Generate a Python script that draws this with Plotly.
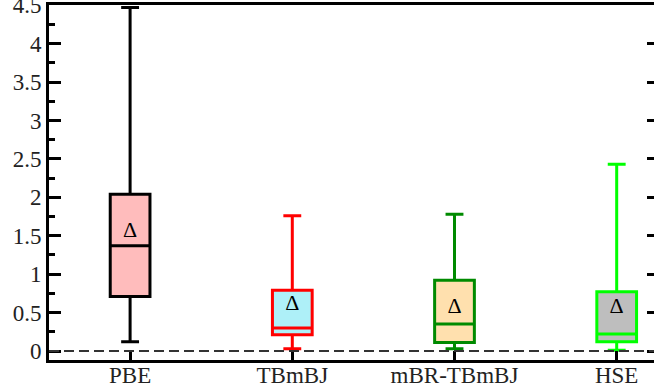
import plotly.graph_objects as go

categories = ["PBE", "TBmBJ", "mBR-TBmBJ", "HSE"]
lower_whisker = [0.12, 0.03, 0.03, 0.01]
q1_vals = [0.71, 0.21, 0.11, 0.12]
median_vals = [1.37, 0.30, 0.35, 0.22]
q3_vals = [2.04, 0.79, 0.92, 0.77]
upper_whisker = [4.47, 1.76, 1.78, 2.43]
mean_vals = [1.56, 0.61, 0.57, 0.57]

line_colors = ["#000000", "#FF0000", "#008A00", "#00FF00"]
fill_colors = ["#FFBCBC", "#AEF0F8", "#FFE0AE", "#BEBEBE"]

ytick_vals = [0, 0.5, 1, 1.5, 2, 2.5, 3, 3.5, 4, 4.5]
ytick_text = ["0", "0.5", "1", "1.5", "2", "2.5", "3", "3.5", "4", "4.5"]

FONT = "Liberation Serif"
YRANGE = [-0.117, 4.503]

fig = go.Figure()
for i, c in enumerate(categories):
    fig.add_trace(go.Box(
        x=[c], q1=[q1_vals[i]], median=[median_vals[i]], q3=[q3_vals[i]],
        lowerfence=[lower_whisker[i]], upperfence=[upper_whisker[i]],
        boxpoints=False, width=0.245, whiskerwidth=0.45,
        line=dict(color=line_colors[i], width=3),
        fillcolor=fill_colors[i], showlegend=False, hoverinfo="skip",
    ))

fig.add_trace(go.Scatter(
    x=categories, y=mean_vals, mode="text", text=["Δ"] * len(categories),
    textposition="middle center",
    textfont=dict(family=FONT, size=22, color="#000000"),
    showlegend=False, hoverinfo="skip",
))

# invisible trace to carry the right-hand tick axis
fig.add_trace(go.Scatter(x=[categories[0]], y=[0], yaxis="y2", mode="markers",
                         marker=dict(opacity=0), showlegend=False, hoverinfo="skip"))

fig.add_shape(type="line", xref="paper", yref="y", x0=0, x1=1, y0=0, y1=0,
              line=dict(color="#333333", width=2, dash="10px,5px"), layer="above")

fig.update_layout(
    width=654, height=389,
    margin=dict(l=49, r=0, t=5, b=29),
    paper_bgcolor="white", plot_bgcolor="white",
    boxmode="overlay",
    font=dict(family=FONT, size=23, color="#222222"),
    xaxis=dict(
        range=[-0.5, 3.23], showgrid=False, zeroline=False, automargin=False,
        showline=True, linecolor="#000000", linewidth=3, mirror=True,
        ticks="inside", ticklen=9, tickwidth=3, tickcolor="#000000",
        tickfont=dict(family=FONT, size=23, color="#222222"),
        ticklabelstandoff=-8,
        categoryorder="array", categoryarray=categories,
    ),
    yaxis=dict(
        range=YRANGE, showgrid=False, zeroline=False, automargin=False,
        showline=True, linecolor="#000000", linewidth=3,
        tickvals=ytick_vals, ticktext=ytick_text, ticklabeloverflow="allow",
        ticks="inside", ticklen=12, tickwidth=3, tickcolor="#000000",
        minor=dict(dtick=0.25, tick0=0, ticks="inside", ticklen=6, tickwidth=3, tickcolor="#000000"),
        tickfont=dict(family=FONT, size=23, color="#222222"),
    ),
    yaxis2=dict(
        range=YRANGE, overlaying="y", side="right", anchor="x",
        showgrid=False, zeroline=False, automargin=False, showline=False,
        showticklabels=False, tickvals=ytick_vals,
        ticks="inside", ticklen=7, tickwidth=3, tickcolor="#000000",
    ),
)

fig.write_html("out.html", config={"displayModeBar": False},
               post_script="document.body.style.margin='0px';")
